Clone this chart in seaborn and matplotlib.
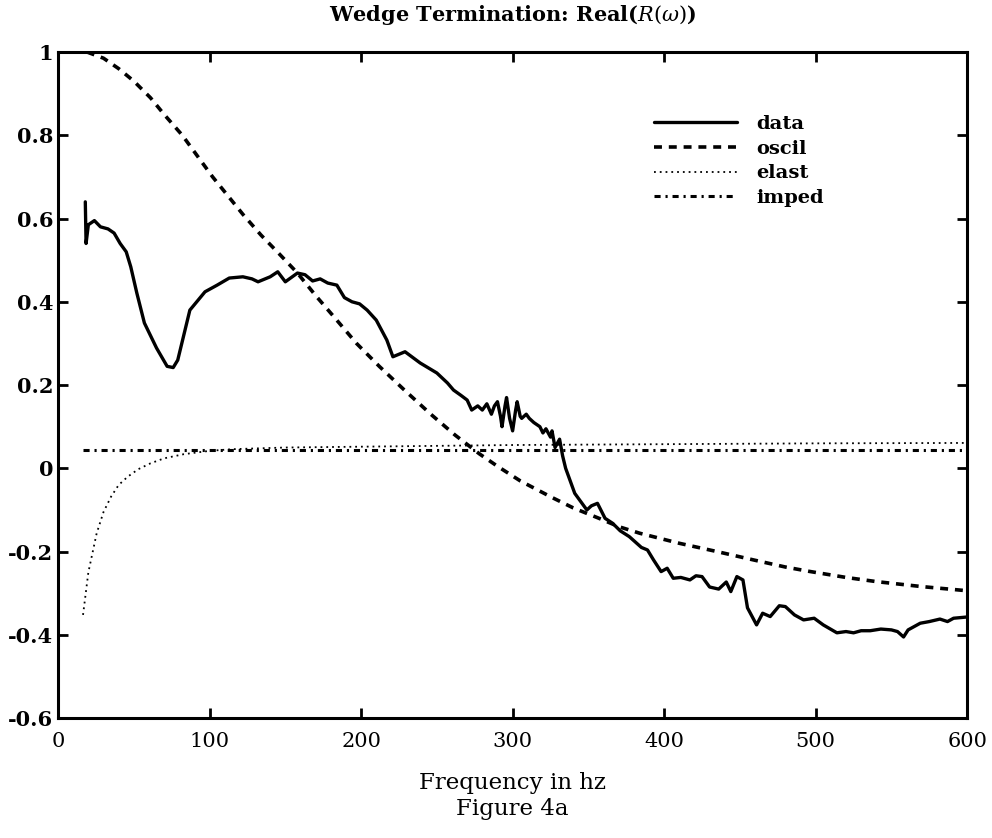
import numpy as np
import matplotlib
matplotlib.use("Agg")
import matplotlib.pyplot as plt
import seaborn as sns

# measured curve (frequency in hz, real part)
data_freq = [18, 18.5, 20, 24, 28, 33, 37, 41, 45, 48, 52, 57, 65, 72, 76, 79, 87, 97,
             105, 113, 122, 128, 132, 140, 145, 150, 158, 163, 168, 173, 178, 184, 189,
             194, 199, 204, 210, 217, 221, 229, 239, 250, 257, 261, 266, 270, 273, 277,
             280, 283, 286, 288, 290, 292, 293, 295, 296, 298, 300, 302, 303, 305, 306,
             309, 311, 314, 318, 320, 322, 325, 326, 328, 331, 333, 335, 338, 341,
             345, 349, 352, 356, 361, 366, 371, 377, 385, 389, 393, 398, 402, 406, 411,
             417, 421, 425, 430, 436, 441, 444, 448, 452, 455, 461, 465, 470, 476, 480,
             486, 492, 499, 505, 514, 520, 525, 530, 536, 543, 550, 554, 558, 561, 569,
             575, 582, 587, 591, 600]
data_vals = [0.64, 0.54, 0.585, 0.595, 0.58, 0.575, 0.565, 0.54, 0.52, 0.484, 0.421, 0.349,
             0.289, 0.245, 0.242, 0.26, 0.38, 0.424, 0.44, 0.457, 0.46, 0.455, 0.448, 0.46,
             0.472, 0.448, 0.469, 0.465, 0.45, 0.455, 0.445, 0.44, 0.41, 0.40, 0.395, 0.38,
             0.356, 0.308, 0.268, 0.28, 0.253, 0.229, 0.205, 0.188, 0.175, 0.164, 0.14,
             0.15, 0.14, 0.155, 0.13, 0.15, 0.16, 0.125, 0.10, 0.15, 0.17, 0.12, 0.09, 0.14,
             0.16, 0.125, 0.12, 0.13, 0.12, 0.11, 0.10, 0.085, 0.095, 0.075, 0.09, 0.05,
             0.07, 0.03, 0.0, -0.03, -0.06, -0.08, -0.10, -0.09, -0.084, -0.12, -0.132,
             -0.15, -0.164, -0.19, -0.196, -0.22, -0.248, -0.24, -0.264, -0.262, -0.268,
             -0.258, -0.26, -0.285, -0.29, -0.273, -0.296, -0.26, -0.268, -0.335, -0.376,
             -0.348, -0.356, -0.33, -0.332, -0.352, -0.364, -0.36, -0.376, -0.395, -0.392,
             -0.395, -0.39, -0.39, -0.386, -0.388, -0.392, -0.405, -0.388, -0.372, -0.368,
             -0.362, -0.368, -0.36, -0.357]

oscil_freq = [19, 30, 40, 50, 61, 70, 82, 92, 102, 112, 122, 134, 146, 158, 170, 183, 197,
              212, 228, 246, 262, 278, 290, 305, 326, 340, 357, 370, 384, 410, 435, 459,
              480, 495, 520, 540, 570, 600]
oscil_vals = [1.0, 0.985, 0.96, 0.93, 0.89, 0.85, 0.80, 0.75, 0.70, 0.655, 0.61, 0.56,
              0.515, 0.469, 0.415, 0.36, 0.30, 0.245, 0.19, 0.13, 0.08, 0.035, 0.005,
              -0.03, -0.07, -0.095, -0.12, -0.14, -0.156, -0.18, -0.20, -0.22, -0.237,
              -0.247, -0.262, -0.272, -0.284, -0.294]

elast_freq = [16.5, 20, 25.5, 30, 35, 40, 46, 53, 61, 70, 83, 100, 115, 150, 200, 300, 400,
              500, 600]
elast_vals = [-0.352, -0.25, -0.156, -0.105, -0.068, -0.04, -0.02, -0.002, 0.012, 0.024,
              0.034, 0.042, 0.046, 0.05, 0.052, 0.056, 0.058, 0.06, 0.061]

imped_freq = [16.5, 600]
imped_vals = [0.045, 0.045]

ytick_vals = [-0.6, -0.4, -0.2, 0, 0.2, 0.4, 0.6, 0.8, 1]
ytick_text = ['-0.6', '-0.4', '-0.2', '0', '0.2', '0.4', '0.6', '0.8', '1']
xtick_vals = [0, 100, 200, 300, 400, 500, 600]

sns.set_style("ticks")
plt.rcParams['font.family'] = ['DejaVu Serif']
plt.rcParams['mathtext.fontset'] = 'dejavuserif'
plt.rcParams['text.color'] = 'black'
plt.rcParams['axes.labelcolor'] = 'black'
plt.rcParams['xtick.color'] = 'black'
plt.rcParams['ytick.color'] = 'black'

fig = plt.figure(figsize=(9.92, 8.38), dpi=100)
ax = fig.add_axes([0.0585, 0.143, 0.9165, 0.795])

sns.lineplot(x=data_freq, y=data_vals, ax=ax, color='black', lw=2.4,
             estimator=None, label='data')
sns.lineplot(x=oscil_freq, y=oscil_vals, ax=ax, color='black', lw=2.6,
             linestyle=(0, (2.2, 1.9)), estimator=None, label='oscil')
sns.lineplot(x=elast_freq, y=elast_vals, ax=ax, color='black', lw=1.3,
             linestyle=(0, (1, 2.2)), estimator=None, label='elast')
sns.lineplot(x=imped_freq, y=imped_vals, ax=ax, color='black', lw=2.2,
             linestyle=(0, (2, 1.6, 0.7, 1.6)), estimator=None, label='imped')

ax.set_xlim(0, 600)
ax.set_ylim(-0.6, 1)
ax.set_xticks(xtick_vals)
ax.set_xticklabels([str(v) for v in xtick_vals], fontsize=15)
ax.set_yticks(ytick_vals)
ax.set_yticklabels(ytick_text, fontsize=15, fontweight='bold')
ax.tick_params(direction='in', length=7, width=2, top=True, right=True,
               labeltop=False, labelright=False, color='black')
ax.tick_params(axis='x', pad=10)
for sp in ax.spines.values():
    sp.set_linewidth(2.2)
    sp.set_color('black')

ax.set_title(r'Wedge Termination: Real($R(\omega)$)', fontsize=15,
             fontweight='bold', pad=22)
ax.set_xlabel('Frequency in hz\nFigure 4a', fontsize=16.5, labelpad=15,
              linespacing=1.25)
ax.set_ylabel('')

leg = ax.legend(loc='upper left', bbox_to_anchor=(0.655, 0.905), frameon=False,
                handlelength=4.3, handletextpad=1.0, labelspacing=0.34,
                borderaxespad=0, borderpad=0,
                prop={'family': 'DejaVu Serif', 'weight': 'bold', 'size': 14})

fig.savefig('out.png', dpi=100)
